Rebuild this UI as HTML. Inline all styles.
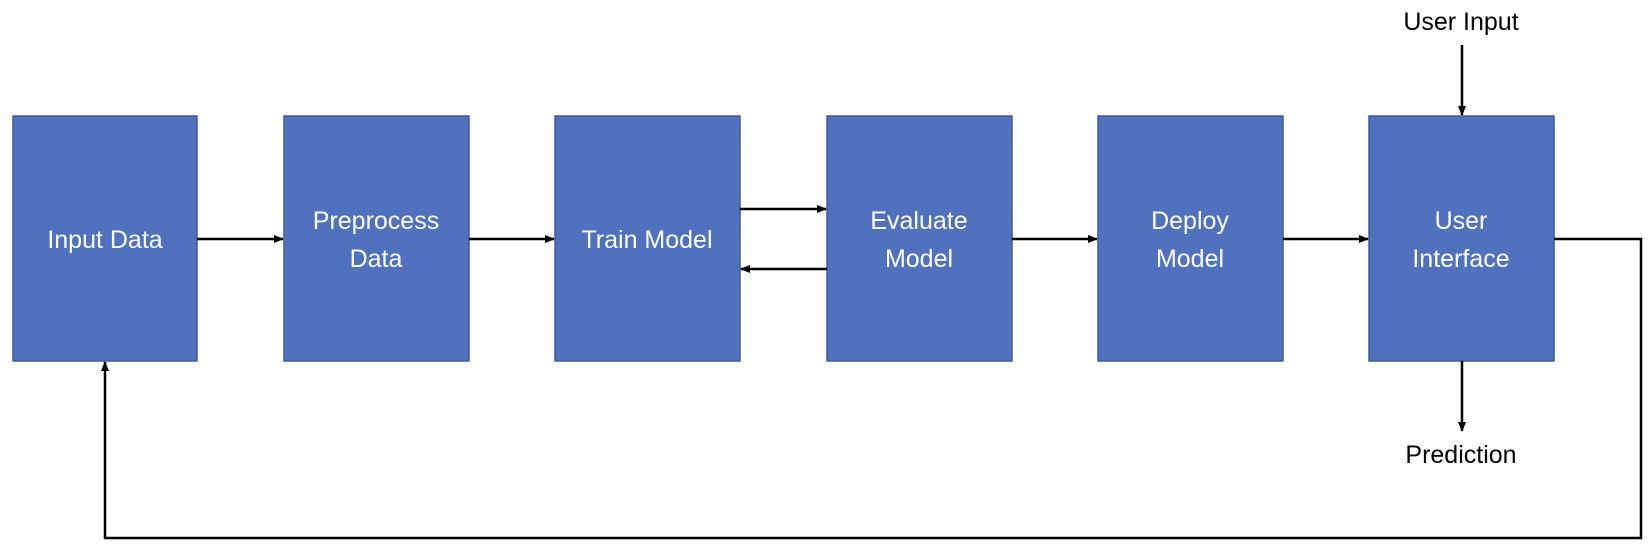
<!DOCTYPE html>
<html><head><meta charset="utf-8"><style>
html,body{margin:0;padding:0;background:#fff;}
svg{display:block}
text{font-family:"Liberation Sans",sans-serif;}
</style></head><body>
<svg width="1650" height="548" viewBox="0 0 1650 548" xmlns="http://www.w3.org/2000/svg">
<defs>
<marker id="a" markerWidth="10" markerHeight="10" refX="9" refY="5" orient="auto" markerUnits="userSpaceOnUse">
<path d="M0,1 L10,5 L0,9 Z" fill="#000"/>
</marker>
</defs>
<g fill="#4F71BE" stroke="#3D5C9C" stroke-width="1.5">
<rect x="13" y="116" width="184" height="245"/>
<rect x="284" y="116" width="185" height="245"/>
<rect x="555" y="116" width="185" height="245"/>
<rect x="827" y="116" width="185" height="245"/>
<rect x="1098" y="116" width="185" height="245"/>
<rect x="1369" y="116" width="185" height="245"/>
</g>
<g fill="#fff" font-size="25" text-anchor="middle">
<text x="105" y="248">Input Data</text>
<text x="376" y="229">Preprocess</text><text x="376" y="267">Data</text>
<text x="647" y="248">Train Model</text>
<text x="919" y="229">Evaluate</text><text x="919" y="267">Model</text>
<text x="1190" y="229">Deploy</text><text x="1190" y="267">Model</text>
<text x="1461" y="229">User</text><text x="1461" y="267">Interface</text>
</g>
<g stroke="#000" stroke-width="2.5" fill="none">
<line x1="197" y1="239" x2="283" y2="239" marker-end="url(#a)"/>
<line x1="469" y1="239" x2="554" y2="239" marker-end="url(#a)"/>
<line x1="740" y1="209" x2="826" y2="209" marker-end="url(#a)"/>
<line x1="827" y1="269" x2="741" y2="269" marker-end="url(#a)"/>
<line x1="1012" y1="239" x2="1097" y2="239" marker-end="url(#a)"/>
<line x1="1283" y1="239" x2="1368" y2="239" marker-end="url(#a)"/>
<line x1="1462" y1="45" x2="1462" y2="115" marker-end="url(#a)"/>
<line x1="1462" y1="361" x2="1462" y2="431" marker-end="url(#a)"/>
<polyline points="1554,239 1641,239 1641,538 105,538 105,362" marker-end="url(#a)"/>
</g>
<g fill="#000" font-size="25" text-anchor="middle">
<text x="1461" y="30">User Input</text>
<text x="1461" y="463">Prediction</text>
</g>
</svg>
</body></html>
